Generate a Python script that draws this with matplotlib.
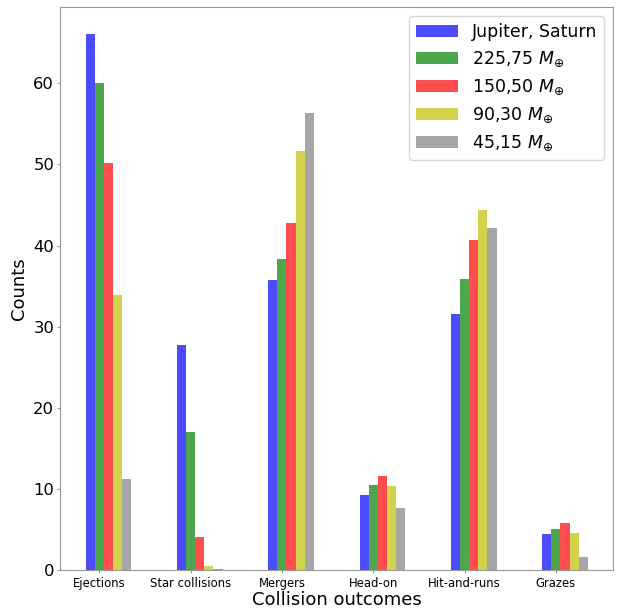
import numpy as np
import matplotlib
matplotlib.use("Agg")
import matplotlib.pyplot as plt

categories = ["Ejections", "Star collisions", "Mergers", "Head-on", "Hit-and-runs", "Grazes"]
series_labels = ["Jupiter, Saturn", r"225,75 $M_{\oplus}$", r"150,50 $M_{\oplus}$",
                 r"90,30 $M_{\oplus}$", r"45,15 $M_{\oplus}$"]
jupiter_saturn = [66.0, 27.8, 35.8, 9.3, 31.6, 4.5]
m225_75 = [60.0, 17.1, 38.4, 10.5, 35.9, 5.1]
m150_50 = [50.2, 4.1, 42.8, 11.6, 40.7, 5.8]
m90_30 = [33.9, 0.6, 51.6, 10.4, 44.4, 4.6]
m45_15 = [11.2, 0.15, 56.3, 7.7, 42.2, 1.6]
colors = ["blue", "g", "r", "y", "gray"]

# figure / axes
fig = plt.figure(figsize=(6.17, 6.08), dpi=100)
ax = fig.add_axes([0.098, 0.0617, 0.8955, 0.926])

x = np.arange(len(categories))
w = 0.1
all_series = [jupiter_saturn, m225_75, m150_50, m90_30, m45_15]
for i, (vals, lab, col) in enumerate(zip(all_series, series_labels, colors)):
    ax.bar(x + (i - 1) * w, vals, width=w, color=col, alpha=0.7, label=lab)

ax.set_xticks(x)
ax.set_xticklabels(categories, fontsize=8.4)
ax.tick_params(axis="y", labelsize=11.8)
ax.tick_params(length=2, pad=2.5, colors="#999999", labelcolor="black")
for sp in ax.spines.values():
    sp.set_color("#999999")

ax.set_xlabel("Collision outcomes", fontsize=13, labelpad=1)
ax.set_ylabel("Counts", fontsize=13, labelpad=4)
ax.legend(loc="upper right", fontsize=12.5, handlelength=2.4)

fig.savefig("out.png", dpi=100)
